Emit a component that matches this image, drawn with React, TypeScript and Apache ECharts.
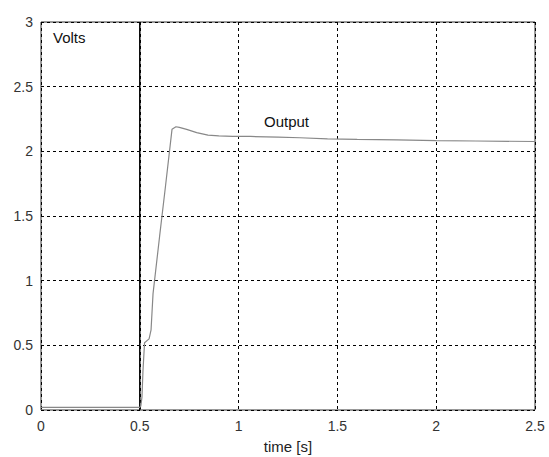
import React, { useEffect, useRef } from "react";
import * as echarts from "echarts";

const xTicks = ["0", "0.5", "1", "1.5", "2", "2.5"];
const yTicks = ["0", "0.5", "1", "1.5", "2", "2.5", "3"];

const outTime = [0, 0.5, 0.505, 0.511, 0.516, 0.524, 0.547, 0.557, 0.567, 0.6, 0.63, 0.663, 0.683, 0.7, 0.737, 0.788, 0.845, 0.9, 0.97, 1.06, 1.2, 1.31, 1.45, 1.6, 1.8, 2.0, 2.2, 2.5];
const outVolts = [0.02, 0.02, 0.03, 0.1, 0.3, 0.52, 0.55, 0.62, 0.9, 1.34, 1.73, 2.17, 2.19, 2.185, 2.17, 2.145, 2.125, 2.12, 2.115, 2.115, 2.11, 2.105, 2.096, 2.092, 2.088, 2.083, 2.08, 2.076];

const stepTime = [0.5, 0.5];
const stepVolts = [0, 3];

export default function App() {
  const ref = useRef<HTMLDivElement>(null);
  useEffect(() => {
    if (!ref.current) return;
    const chart = echarts.init(ref.current, null, { renderer: "svg" });
    const font = "Liberation Sans, Arial, Helvetica, sans-serif";
    const gridLine = { show: true, lineStyle: { color: "#000", type: [3, 3] as any, width: 1 } };
    chart.setOption({
      animation: false,
      backgroundColor: "#fff",
      textStyle: { fontFamily: font },
      grid: { left: 41, top: 22, right: 14, bottom: 47, show: true, borderColor: "#333", borderWidth: 1, backgroundColor: "transparent", containLabel: false, outerBoundsMode: "none" },
      xAxis: {
        type: "value",
        min: 0,
        max: 2.5,
        interval: 0.5,
        name: "time [s]",
        nameLocation: "middle",
        nameGap: 29,
        nameTextStyle: { color: "#222", fontSize: 15, fontFamily: font },
        axisLine: { show: false },
        axisTick: { show: false },
        axisLabel: { color: "#333", fontSize: 14, margin: 9, fontFamily: font, formatter: (v: number) => xTicks[Math.round(v / 0.5)] ?? "" },
        splitLine: gridLine,
      },
      yAxis: {
        type: "value",
        min: 0,
        max: 3,
        interval: 0.5,
        axisLine: { show: false },
        axisTick: { show: false },
        axisLabel: { color: "#333", fontSize: 14, margin: 8, fontFamily: font, formatter: (v: number) => yTicks[Math.round(v / 0.5)] ?? "" },
        splitLine: gridLine,
      },
      graphic: [
        { type: "text", left: 53, top: 30, style: { text: "Volts", fontSize: 15, fill: "#111", fontFamily: font } },
        { type: "text", left: 264, top: 114, style: { text: "Output", fontSize: 15, fill: "#111", fontFamily: font } },
      ],
      series: [
        {
          type: "line",
          data: stepTime.map((t, i) => [t, stepVolts[i]]),
          showSymbol: false,
          lineStyle: { color: "#000", width: 1.5 },
          z: 3,
        },
        {
          type: "line",
          data: outTime.map((t, i) => [t, outVolts[i]]),
          showSymbol: false,
          lineStyle: { color: "#888", width: 1.2 },
          z: 4,
        },
      ],
    });
    return () => chart.dispose();
  }, []);
  return <div ref={ref} style={{ position: "fixed", left: 0, top: 0, width: 549, height: 457 }} />;
}
